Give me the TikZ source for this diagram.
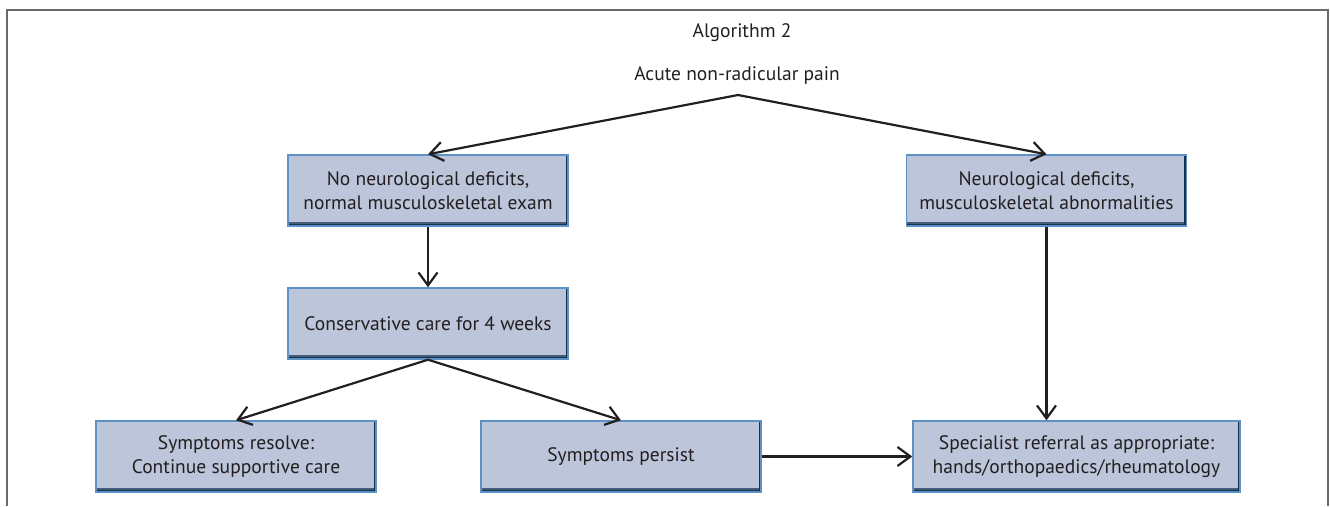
\documentclass[tikz,border=0pt]{standalone}
\usepackage{fontspec}
\setmainfont{PT Sans}
\usetikzlibrary{arrows.meta}
\definecolor{boxfill}{HTML}{BCC5DA}
\definecolor{boxedge}{HTML}{5E92C6}
\definecolor{boxshade}{HTML}{13304F}
\definecolor{inkgrey}{HTML}{231F20}
\definecolor{framegrey}{HTML}{6A6A6A}
\tikzset{
  algbox/.style={draw=boxedge, fill=boxfill, line width=1.4pt, minimum width=280pt,
    minimum height=71pt, inner sep=0pt, align=center, text=inkgrey,
    font=\fontsize{19.5}{24}\selectfont,
    path picture={\draw[boxshade!70!boxfill, line width=9pt]
      (path picture bounding box.south west) -- (path picture bounding box.south east);
      \draw[boxshade, line width=5pt]
      (path picture bounding box.south west) -- (path picture bounding box.south east)
      -- (path picture bounding box.north east);}},
  flow/.style={line width=2.2pt, draw=inkgrey,
    -{Straight Barb[length=13pt, width=19pt, line width=2.2pt]}},
  plain/.style={text=inkgrey, font=\fontsize{19.5}{24}\selectfont}
}
\begin{document}
\begin{tikzpicture}[x=1pt, y=-1pt]
  \useasboundingbox (0,0) rectangle (1330,506);
  \draw[framegrey, line width=2pt] (7,506) -- (7,10) -- (1328,10) -- (1328,506);

  \pgfmathsetmacro{\rowa}{190.5}
  \pgfmathsetmacro{\rowb}{323.5}
  \pgfmathsetmacro{\rowc}{456.5}

  \node[plain] (title) at (742,33) {Algorithm 2};
  \node[plain] (pain) at (737,76) {Acute non-radicular pain};
  \coordinate (apex) at (738,95);

  \node[algbox] (nodeficit) at (428,\rowa) {No neurological deficits,\\normal musculoskeletal exam};
  \node[algbox] (deficit) at (1046.5,\rowa) {Neurological deficits,\\musculoskeletal abnormalities};
  \node[algbox] (care) at (428,\rowb) {Conservative care for 4 weeks};
  \node[algbox] (resolve) at (236,\rowc) {Symptoms resolve:\\Continue supportive care};
  \node[algbox] (persist) at (621,\rowc) {Symptoms persist};
  \node[algbox, minimum width=327pt] (referral) at (1076.5,\rowc)
        {Specialist referral as appropriate:\\hands/orthopaedics/rheumatology};

  \draw[flow] (apex) -- (nodeficit.north);
  \draw[flow] (apex) -- (deficit.north);
  \draw[flow] (nodeficit) -- (care);
  \draw[flow] (deficit.south) -- (deficit.south |- referral.north);
  \draw[flow] (care.south) -- (resolve.north);
  \draw[flow] (care.south) -- (persist.north);
  \draw[flow] (persist) -- (referral);
\end{tikzpicture}
\end{document}
